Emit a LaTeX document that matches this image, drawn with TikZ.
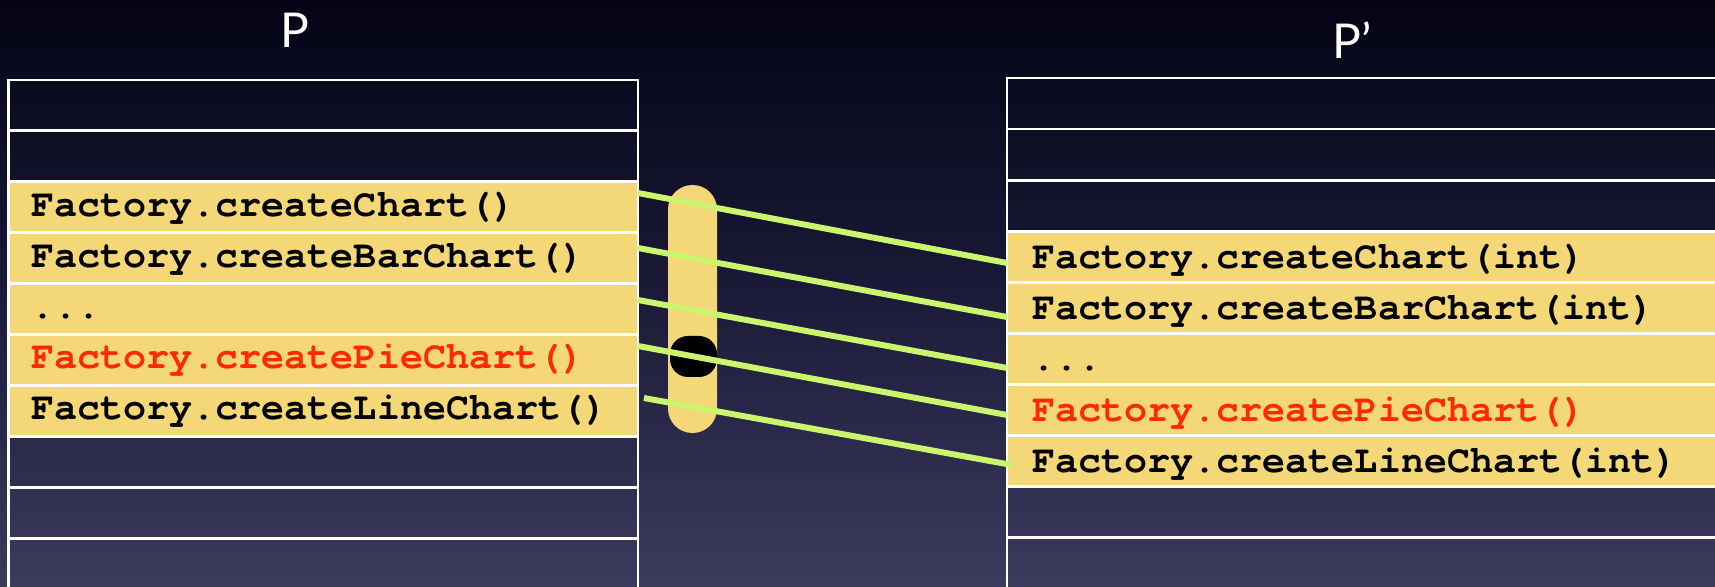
\documentclass[tikz,border=0pt]{standalone}
\usepackage{fontspec}
\setmonofont{TeX Gyre Cursor}
\newfontfamily\titlefont{Lato}
\definecolor{bgtop}{RGB}{4,4,21}
\definecolor{bgmid}{RGB}{27,26,56}
\definecolor{bgbot}{RGB}{60,59,94}
\definecolor{pad}{RGB}{244,215,118}
\definecolor{hilite}{RGB}{255,42,0}
\definecolor{wire}{RGB}{204,245,110}
\begin{document}
\begin{tikzpicture}[x=0.5pt,y=-0.5pt,
  cell/.style={draw=white, line width=1.4pt, inner sep=0pt, outer sep=0pt,
    anchor=north west, minimum height=25.5pt},
  lcell/.style={cell, minimum width=314.6pt},
  rcell/.style={cell, minimum width=370pt},
  filled/.style={fill=pad},
  code/.style={anchor=base west, inner sep=0pt, font=\ttfamily\bfseries\fontsize{19.2pt}{20pt}\selectfont},
  hot/.style={code, text=hilite},
  title/.style={anchor=base, inner sep=0pt, text=white, font=\titlefont\fontsize{24pt}{26pt}\selectfont},
  link/.style={draw=wire, line width=3pt}]
\useasboundingbox (0,0) rectangle (1715,587);
\clip (0,0) rectangle (1715,587);
\fill[top color=bgtop, bottom color=bgbot, middle color=bgmid] (0,0) rectangle (1715,587);

% column titles
\node[title] (tP) at (295,48) {P};
\node[title] (tQ) at (1352,59) {P’};

% left method table
\foreach \i/\t in {1/80,2/130.9,8/436.3,9/487.2,10/538.1}
  \node[lcell] (L\i) at (8.75,\t) {};
\foreach \i/\t in {3/181.8,4/232.7,5/283.6,6/334.5,7/385.4}
  \node[lcell,filled] (L\i) at (8.75,\t) {};
\node[code] (l3) at (31,216.3) {Factory.createChart()};
\node[code] (l4) at (31,267.2) {Factory.createBarChart()};
\node[code] (l5) at (31,318.1) {...};
\node[hot]  (l6) at (31,369.0) {Factory.createPieChart()};
\node[code] (l7) at (31,419.9) {Factory.createLineChart()};

% right method table
\foreach \i/\t in {1/78,2/129.1,3/180.2,9/486.8,10/537.9}
  \node[rcell] (R\i) at (1007,\t) {};
\foreach \i/\t in {4/231.3,5/282.4,6/333.5,7/384.6,8/435.7}
  \node[rcell,filled] (R\i) at (1007,\t) {};
\node[code] (r4) at (1032,268.3) {Factory.createChart(int)};
\node[code] (r5) at (1032,319.4) {Factory.createBarChart(int)};
\node[code] (r6) at (1032,370.5) {...};
\node[hot]  (r7) at (1032,421.6) {Factory.createPieChart()};
\node[code] (r8) at (1032,472.7) {Factory.createLineChart(int)};

% capsule with the blocking plug
\node[fill=pad, rounded corners=12.2pt, minimum width=24.5pt, minimum height=124pt,
  inner sep=0pt] (cap) at (692.5,309) {};
\node[fill=black, rounded corners=9pt, minimum width=23.5pt, minimum height=20.5pt,
  inner sep=0pt] (plug) at (693.5,356.5) {};

% call-site mappings
\draw[link] ([yshift=-5.6pt]L3.north east) -- ([yshift=-15.85pt]R4.north west);
\draw[link] ([yshift=-7.65pt]L4.north east) -- ([yshift=-17.3pt]R5.north west);
\draw[link] ([yshift=-8.2pt]L5.north east) -- ([yshift=-17.25pt]R6.north west);
\draw[link] ([yshift=-5.75pt]L6.north east) -- ([yshift=-15.2pt]R7.north west);
\draw[link] ([xshift=3pt,yshift=-6.3pt]L7.north east) -- ([xshift=2.5pt,yshift=-14.65pt]R8.north west);
\end{tikzpicture}
\end{document}
